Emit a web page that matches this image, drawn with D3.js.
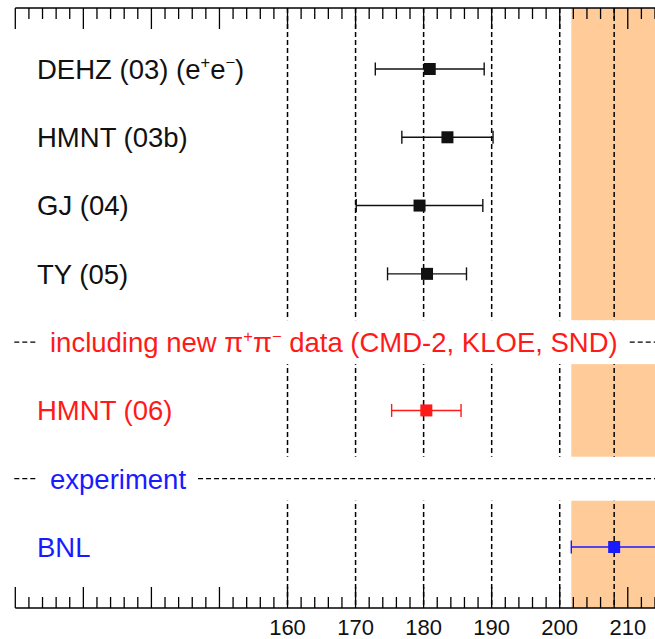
<!DOCTYPE html>
<html>
<head>
<meta charset="utf-8">
<script src="https://cdn.jsdelivr.net/npm/d3@7"></script>
<style>
  body { margin: 0; background: #fff; }
  svg { display: block; font-family: "Liberation Sans", Arial, Helvetica, sans-serif; }
</style>
</head>
<body>
<svg id="chart" width="655" height="639"></svg>
<script>
// values are a_mu x 1e11 minus 11659000
const rowCount = 8;
const pointRows = [0, 1, 2, 3, 5, 7];
const pointNames = ["DEHZ (03) (e", "HMNT (03b)", "GJ (04)", "TY (05)", "HMNT (06)", "BNL"];
const centralValues = [180.9, 183.5, 179.4, 180.5, 180.4, 208.0];
const errors = [8.0, 6.7, 9.3, 5.8, 5.1, 6.3];
const pointColors = ["#111", "#111", "#111", "#111", "#ff1a1a", "#1a1aff"];
const separatorRows = [4, 6];
const separatorColors = ["#ff1a1a", "#1a1aff"];
const gridValues = [160, 170, 180, 190, 200, 208];
const tickLabels = [160, 170, 180, 190, 200, 210];
const bandValue = 208.0, bandError = 6.3;

const svg = d3.select("#chart");
const width = 655;
const yTop = 8, yBottom = 608;

const x = d3.scaleLinear().domain([120, 214]).range([15.3, 655]);
const y = d3.scalePoint().domain(d3.range(rowCount)).range([69, 547]);
const gapHalf = 22;

// experimental band
svg.append("rect")
  .attr("x", x(bandValue - bandError))
  .attr("y", yTop)
  .attr("width", x(bandValue + bandError) - x(bandValue - bandError))
  .attr("height", yBottom - yTop)
  .attr("fill", "#ffcc99");

// dashed vertical grid lines
svg.append("g")
  .selectAll("line")
  .data(gridValues)
  .enter()
  .append("line")
  .attr("x1", d => x(d)).attr("x2", d => x(d))
  .attr("y1", yTop).attr("y2", yBottom)
  .attr("stroke", "#000")
  .attr("stroke-width", 1.5)
  .attr("stroke-dasharray", "5,3");

// white strips for the separator rows
svg.append("g")
  .selectAll("rect")
  .data(separatorRows)
  .enter()
  .append("rect")
  .attr("x", 0)
  .attr("y", d => y(d) - gapHalf)
  .attr("width", width)
  .attr("height", gapHalf * 2)
  .attr("fill", "#fff");

// axes top and bottom, no labels on top
const axisTop = svg.append("g").attr("transform", `translate(0,${yTop})`);
const axisBottom = svg.append("g").attr("transform", `translate(0,${yBottom})`);
const minorTicks = d3.range(120, 215, 2).filter(v => v % 10 !== 0);
const majorTicks = d3.range(120, 215, 10);

[[axisTop, 1], [axisBottom, -1]].forEach(([g, dir]) => {
  g.append("line")
    .attr("x1", x(120)).attr("x2", width)
    .attr("stroke", "#000").attr("stroke-width", 1.5);
  g.selectAll(".minor")
    .data(minorTicks)
    .enter()
    .append("line")
    .attr("x1", d => x(d)).attr("x2", d => x(d))
    .attr("y1", 0).attr("y2", dir * 11)
    .attr("stroke", "#000").attr("stroke-width", 1.3);
  g.selectAll(".major")
    .data(majorTicks)
    .enter()
    .append("line")
    .attr("x1", d => x(d)).attr("x2", d => x(d))
    .attr("y1", 0).attr("y2", dir * 21)
    .attr("stroke", "#000").attr("stroke-width", 1.3);
});

axisBottom.selectAll("text")
  .data(tickLabels)
  .enter()
  .append("text")
  .attr("x", d => x(d))
  .attr("y", 27)
  .attr("text-anchor", "middle")
  .attr("font-size", 22)
  .attr("fill", "#111")
  .text(d => d);

// row labels
const labelX = 37;
const fs = 27.5;

// parts: plain strings, or ["sup", text] for a superscript
function addLabel(g, parts, color, xPos, yPos) {
  const t = g.append("text")
    .attr("x", xPos)
    .attr("y", yPos + fs * 0.36)
    .attr("font-size", fs)
    .attr("fill", color);
  let shift = 0;
  parts.forEach(p => {
    if (Array.isArray(p)) {
      t.append("tspan").attr("font-size", fs * 0.6).attr("dy", -fs * 0.38 - shift).text(p[1]);
      shift = -fs * 0.38;
    } else {
      t.append("tspan").attr("dy", -shift).text(p);
      shift = 0;
    }
  });
  return t;
}

const labelGroup = svg.append("g");
pointRows.forEach((r, i) => {
  const parts = i === 0 ? [pointNames[0], ["sup", "+"], "e", ["sup", "\u2212"], ")"] : [pointNames[i]];
  addLabel(labelGroup, parts, pointColors[i], labelX, y(r));
});

// separator rows: dashed line with text
const sepParts = [
  ["including new \u03c0", ["sup", "+"], "\u03c0", ["sup", "\u2212"], " data (CMD-2, KLOE, SND)"],
  ["experiment"]
];
separatorRows.forEach((r, i) => {
  const textX = 50;
  const t = addLabel(labelGroup, sepParts[i], separatorColors[i], textX, y(r));
  const len = t.node().getComputedTextLength();
  const segs = [[x(120) - 1, textX - 12], [textX + len + 12, width]];
  labelGroup.selectAll(null)
    .data(segs)
    .enter()
    .append("line")
    .attr("x1", d => d[0]).attr("x2", d => d[1])
    .attr("y1", y(r)).attr("y2", y(r))
    .attr("stroke", "#000")
    .attr("stroke-width", 1.3)
    .attr("stroke-dasharray", "5,3");
});

// error bars and markers
const points = pointRows.map((r, i) => ({ row: r, v: centralValues[i], e: errors[i], c: pointColors[i] }));
const pts = svg.append("g").selectAll("g")
  .data(points)
  .enter()
  .append("g")
  .attr("stroke", d => d.c)
  .attr("fill", d => d.c);

pts.append("line")
  .attr("x1", d => x(d.v - d.e)).attr("x2", d => x(d.v + d.e))
  .attr("y1", d => y(d.row)).attr("y2", d => y(d.row))
  .attr("stroke-width", 1.4);
[-1, 1].forEach(s => {
  pts.append("line")
    .attr("x1", d => x(d.v + s * d.e)).attr("x2", d => x(d.v + s * d.e))
    .attr("y1", d => y(d.row) - 6.5).attr("y2", d => y(d.row) + 6.5)
    .attr("stroke-width", 1.4);
});
pts.append("rect")
  .attr("x", d => x(d.v) - 6)
  .attr("y", d => y(d.row) - 6)
  .attr("width", 12).attr("height", 12)
  .attr("stroke", "none");
</script>
</body>
</html>
